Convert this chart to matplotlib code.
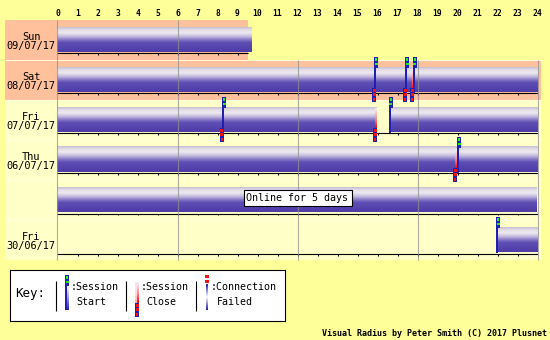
import matplotlib
matplotlib.use("Agg")
import matplotlib.pyplot as plt
import numpy as np
from matplotlib.colors import LinearSegmentedColormap
from matplotlib.patches import Rectangle, Ellipse

# ---------------- data ----------------
hours = list(range(25))
day_names = ["Sun", "Sat", "Fri", "Thu", "", "Fri"]
day_dates = ["09/07/17", "08/07/17", "07/07/17", "06/07/17", "", "30/06/17"]
weekend = [True, True, False, False, False, False]
row_end = [9.525, 24, 24, 24, 24, 24]          # hours covered in each row
# online sessions per row: (start hour, end hour)
sessions = [
    [(0, 9.525)],
    [(0, 15.925), (15.825, 17.475), (17.375, 17.825), (17.775, 24)],
    [(0, 8.325), (8.225, 15.975), (16.575, 24)],
    [(0, 19.975), (19.975, 24)],
    [(0, 24)],
    [(21.925, 24)],
]
start_rows = [1, 1, 1, 2, 2, 3, 5]
start_hours = [15.825, 17.375, 17.775, 8.225, 16.575, 19.975, 21.925]
close_rows = [1, 1, 1, 2, 2, 3]
close_hours = [15.925, 17.475, 17.825, 8.325, 15.975, 19.975]
summary_row = 4
summary_text = "Online for 5 days"
footer = "Visual Radius by Peter Smith (C) 2017 Plusnet"

# ---------------- style ----------------
BG = "#FFFF99"
CREAM = "#FFFFC8"
PINK = "#FFC09C"
SEP = "#FFFFDC"
BLUE = "#2020B0"
GREEN = "#20F020"
RED = "#FF1010"
MONO = "DejaVu Sans Mono"

tube = LinearSegmentedColormap.from_list("tube", [
    (0.0, "#C4C0D4"), (0.1, "#E2DCE6"), (0.22, "#EEEAEE"),
    (0.36, "#C8C0E0"), (0.5, "#8A7CC8"), (0.62, "#5E4EB4"), (1.0, "#4E3CA8")])
redline = LinearSegmentedColormap.from_list("redline", ["#FFF0F0", "#FF9090", "#FF0000"])
bluefade = LinearSegmentedColormap.from_list("bluefade", ["#FFFFFF", "#A0A0E0", "#2020B0"])
failfade = LinearSegmentedColormap.from_list("failfade", ["#2020B0", "#FFFFFF", "#2020B0"])
grad = np.linspace(0, 1, 64).reshape(-1, 1)

W, H = 550, 340
X0, PXH = 57.5, 20.0
Y0, PXR = 20.0, 40.0

fig = plt.figure(figsize=(5.5, 3.4), dpi=100, facecolor=BG)
ax = fig.add_axes([X0 / W, 1 - (Y0 + 6 * PXR) / H, 24 * PXH / W, 6 * PXR / H])
ax.set_xlim(0, 24)
ax.set_ylim(6, 0)
ax.axis("off")
sx, sy = 1 / PXH, 1 / PXR


def vimg(a, cmap, x0, x1, ytop, ybot, z, clip=None):
    im = a.imshow(grad, cmap=cmap, extent=(x0, x1, ybot, ytop), aspect="auto",
                  interpolation="bilinear", zorder=z, origin="upper")
    im.set_clip_on(False)
    if clip is not None:
        im.set_clip_path(clip)
    return im


def start_glyph(a, x, top, bot, sx, sy, shade=False):
    kw = dict(ec="none", zorder=7, clip_on=False)
    a.add_patch(Rectangle((x, top), 4 * sx, 11 * sy, fc=BLUE, **kw))
    a.add_patch(Rectangle((x + 1 * sx, top + 1 * sy), 2 * sx, 3 * sy, fc=GREEN, **kw))
    a.add_patch(Rectangle((x + 0.5 * sx, top + 6 * sy), 3 * sx, 2 * sy, fc=GREEN, **kw))
    a.add_patch(Rectangle((x, top + 11 * sy), 1.5 * sx, bot - top - 11 * sy, fc=BLUE, **kw))
    if shade:
        vimg(a, bluefade, x + 1.5 * sx, x + 3.5 * sx, top + 11 * sy, bot, 6)


def close_glyph(a, xr, line_top, box_top, sx, sy, shade=False):
    kw = dict(ec="none", zorder=7, clip_on=False)
    if shade:
        vimg(a, LinearSegmentedColormap.from_list("p", ["#E8E8FF", "#FFE0E0", "#FFB0B0"]),
             xr - 4 * sx, xr - 2 * sx, line_top, box_top, 6)
    vimg(a, redline, xr - 2 * sx, xr, line_top, box_top, 6)
    a.add_patch(Rectangle((xr - 4 * sx, box_top), 4 * sx, 14 * sy, fc=BLUE, **kw))
    a.add_patch(Rectangle((xr - 3.5 * sx, box_top + 1 * sy), 3 * sx, 3 * sy, fc=RED, **kw))
    a.add_patch(Rectangle((xr - 3.5 * sx, box_top + 5 * sy), 3 * sx, 3 * sy, fc=RED, **kw))
    a.add_patch(Rectangle((xr - 3 * sx, box_top + 10 * sy), 2 * sx, 3 * sy, fc=RED, **kw))


# row backgrounds, labels, tick lines, grid
for i in range(6):
    end = row_end[i]
    right = end + (3 * sx if end >= 24 else 0)
    left = -(X0 - 5) * sx
    ax.add_patch(Rectangle((left, i), right - left, 1, fc=PINK if weekend[i] else CREAM,
                           ec="none", zorder=0, clip_on=False))
    if i > 0:
        ax.hlines(i, left, right, color=SEP, lw=0.8, zorder=0.5, clip_on=False)
    ax.text(-26.5 * sx, i + 17 * sy, day_names[i], ha="center", va="center",
            fontsize=7.4, family=MONO, clip_on=False)
    ax.text(-26.5 * sx, i + 26 * sy, day_dates[i], ha="center", va="center",
            fontsize=7.4, family=MONO, clip_on=False)
    # hour scale line with ticks
    ax.hlines(i + 33.5 * sy, 0, end, color="black", lw=0.8, zorder=3)
    th = [h for h in hours[1:24] if h <= end]
    ax.vlines(th, i + 33.5 * sy, i + 35.5 * sy, color="black", lw=0.8, zorder=3)
    gh = [h for h in hours if h % 6 == 0 and h <= end]
    ax.vlines(gh, i, i + 1, color="#909090", lw=0.8, alpha=0.75, zorder=5, clip_on=False)
    # sessions
    for (s, e) in sessions[i]:
        vimg(ax, tube, s, e, i + 7 * sy, i + 32 * sy, 2)
        if e < 24 and e == end:
            ell = Ellipse((e, i + 19.5 * sy), 8 * sx, 25 * sy, transform=ax.transData)
            vimg(ax, tube, e - 4 * sx, e + 4 * sx, i + 7 * sy, i + 32 * sy, 2, clip=ell)

for r, h in zip(start_rows, start_hours):
    start_glyph(ax, h, r - 3 * sy, r + 33 * sy, sx, sy)
for r, h in zip(close_rows, close_hours):
    close_glyph(ax, h, r + 9 * sy, r + 28 * sy, sx, sy)

# hour labels
for h in hours:
    ax.text(h, -6 * sy, str(h), ha="center", va="center", fontsize=5.8,
            weight="bold", family=MONO, clip_on=False)

# summary box
ax.text(12, summary_row + 18 * sy, summary_text, ha="center", va="center",
        fontsize=7.2, family=MONO, zorder=8,
        bbox=dict(boxstyle="square,pad=0.3", fc="white", ec="black", lw=0.8))

# ---------------- key ----------------
kax = fig.add_axes([10.3 / W, 1 - 320.5 / H, 275 / W, 50.2 / H])
kax.set_xlim(10.3, 285.3)
kax.set_ylim(320.5, 270.3)
kax.set_facecolor("white")
kax.set_xticks([])
kax.set_yticks([])
for sp in kax.spines.values():
    sp.set_linewidth(0.8)
    sp.set_color("black")
kax.text(15.5, 293.5, "Key:", ha="left", va="center", fontsize=9, family=MONO)
kax.vlines([55.5, 125.5, 195.5], 280.5, 310.5, color="black", lw=0.8)
start_glyph(kax, 65, 274.5, 310, 1, 1, shade=True)
close_glyph(kax, 139, 282, 303, 1, 1, shade=True)
kw = dict(ec="none", zorder=7)
kax.add_patch(Rectangle((205, 275), 3.5, 2.7, fc=RED, **kw))
kax.add_patch(Rectangle((205, 280.3), 3.5, 3, fc=RED, **kw))
vimg(kax, failfade, 206, 207.8, 284, 310, 6)
for xt, yt, t in [(70.5, 287, ":Session"), (76.5, 302, "Start"),
                  (140.5, 287, ":Session"), (146.5, 302, "Close"),
                  (210.5, 287, ":Connection"), (216.5, 302, "Failed")]:
    kax.text(xt, yt, t, ha="left", va="center", fontsize=7.2, family=MONO)

fig.text(547 / W, 1 - 333 / H, footer, ha="right", va="center", fontsize=6,
         weight="bold", family=MONO)

fig.savefig("out.png", dpi=100, facecolor=BG)
